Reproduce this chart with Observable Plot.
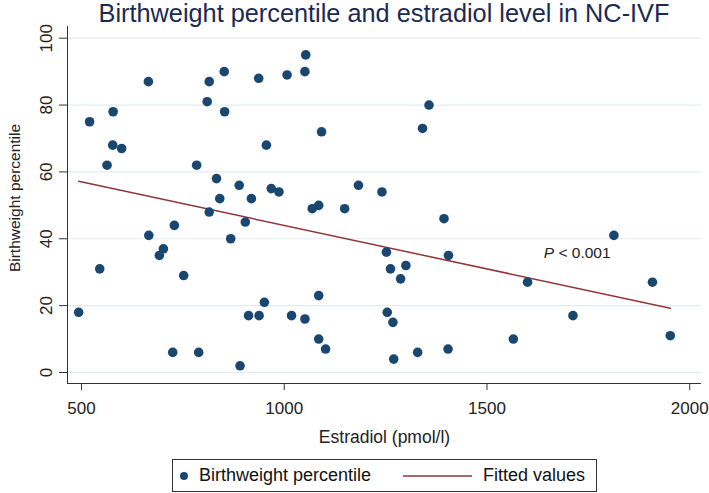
<!DOCTYPE html>
<html><head><meta charset="utf-8">
<script src="https://cdn.jsdelivr.net/npm/d3@7"></script>
<script src="https://cdn.jsdelivr.net/npm/@observablehq/plot@0.6"></script>
<style>
body{margin:0;background:#fff;font-family:"Liberation Sans",Arial,sans-serif;}
#wrap{position:relative;width:709px;height:493px;overflow:hidden;}
#title{position:absolute;left:67px;width:634px;top:1px;text-align:center;font-size:25.3px;line-height:1;color:#1c2a52;white-space:nowrap;}
#chart{position:absolute;left:0;top:0;}
#legend{position:absolute;left:172px;top:459px;width:425px;height:33px;border:1px solid #333;box-sizing:border-box;font-size:18px;color:#111;}
#legend .it{position:absolute;top:0;height:31px;line-height:31px;white-space:nowrap;}
</style></head>
<body>
<div id="wrap">
  <div id="chart"></div>
  <div id="title"></div>
  <div id="legend"></div>
</div>
<script>
const titleText = "Birthweight percentile and estradiol level in NC-IVF";
const xTitle = "Estradiol (pmol/l)";
const yTitle = "Birthweight percentile";
const seriesNames = ["Birthweight percentile", "Fitted values"];
const pLabel = "P < 0.001";
const pLabelX = 1640;
const pLabelY = 35.6;

const xTicks = [500, 1000, 1500, 2000];
const yTicks = [0, 20, 40, 60, 80, 100];
const xDomain = [465.5, 2029];
const yDomain = [-3.3, 103.5];

const estradiol = [493,520,545,563,577,578,599,665,666,692,702,725,729,752,784,789,810,815,815,833,841,852,853,868,889,891,904,912,919,937,938,951,956,968,987,1007,1018,1051,1051,1053,1069,1085,1085,1085,1092,1102,1149,1183,1241,1252,1254,1262,1268,1270,1287,1300,1329,1341,1357,1394,1404,1405,1565,1600,1712,1813,1908,1952];
const percentile = [18,75,31,62,68,78,67,87,41,35,37,6,44,29,62,6,81,87,48,58,52,90,78,40,56,2,45,17,52,88,17,21,68,55,54,89,17,90,16,95,49,50,23,10,72,7,49,56,54,36,18,31,15,4,28,32,6,73,80,46,7,35,10,27,17,41,27,11];

const fitX = [493, 1952];
const fitY = [57.2, 19.2];

const dotColor = "#1a476f";
const lineColor = "#90353b";

const points = estradiol.map((x, i) => ({x, y: percentile[i]}));
const fit = fitX.map((x, i) => ({x, y: fitY[i]}));

const chart = Plot.plot({
  width: 709, height: 455,
  marginLeft: 67, marginRight: 8, marginTop: 26, marginBottom: 72,
  x: {domain: xDomain},
  y: {domain: yDomain},
  style: {fontFamily: '"Liberation Sans", Arial, sans-serif', fontSize: "17px", color: "#222", background: "transparent"},
  marks: [
    Plot.gridY(yTicks, {stroke: "#e2ecef", strokeOpacity: 1, strokeWidth: 1.2}),
    Plot.ruleX([xDomain[0]], {stroke: "#333", strokeWidth: 1}),
    Plot.ruleY([yDomain[0]], {stroke: "#333", strokeWidth: 1}),
    Plot.axisX(xTicks, {tickSize: 7, tickPadding: 11, fontSize: 17, label: null, stroke: "#333", tickFormat: d => String(d)}),
    Plot.axisY(yTicks, {tickSize: 8, tickFormat: () => "", label: null, stroke: "#333"}),
    Plot.text(yTicks, {y: d => d, text: d => String(d), frameAnchor: "left", rotate: -90, dx: -16, lineAnchor: "bottom", textAnchor: "middle", fontSize: 17, fill: "#222"}),
    Plot.text([yTitle], {text: d => d, frameAnchor: "left", rotate: -90, dx: -52, dy: -7, lineAnchor: "middle", textAnchor: "middle", fontSize: 15.5, fill: "#222"}),
    Plot.text([xTitle], {text: d => d, frameAnchor: "bottom", dy: 54, lineAnchor: "middle", textAnchor: "middle", fontSize: 17.5, fill: "#222"}),
    Plot.line(fit, {x: "x", y: "y", stroke: lineColor, strokeWidth: 1.5}),
    Plot.dot(points, {x: "x", y: "y", r: 4.8, fill: dotColor, stroke: "none"}),
    Plot.text([pLabel], {x: () => pLabelX, y: () => pLabelY, text: d => d, textAnchor: "start", lineAnchor: "middle", fontSize: 15.5, fill: "#222", className: "plabel"})
  ]
});
document.getElementById("chart").appendChild(chart);

// italic P in annotation
chart.querySelectorAll(".plabel text").forEach(t => {
  const full = t.textContent;
  t.textContent = "";
  const ns = "http://www.w3.org/2000/svg";
  const a = document.createElementNS(ns, "tspan");
  a.setAttribute("font-style", "italic");
  a.textContent = full.slice(0, 1);
  const b = document.createElementNS(ns, "tspan");
  b.textContent = full.slice(1);
  t.appendChild(a); t.appendChild(b);
});

document.getElementById("title").textContent = titleText;

const legend = document.getElementById("legend");
legend.innerHTML =
  `<svg class="it" style="left:6px;top:0" width="10" height="31"><circle cx="5" cy="16" r="4" fill="${dotColor}"/></svg>` +
  `<span class="it" style="left:26px">${seriesNames[0]}</span>` +
  `<svg class="it" style="left:230px;top:0" width="70" height="31"><line x1="0" x2="69" y1="16" y2="16" stroke="${lineColor}" stroke-width="1.5"/></svg>` +
  `<span class="it" style="left:310px">${seriesNames[1]}</span>`;
</script>
</body></html>
